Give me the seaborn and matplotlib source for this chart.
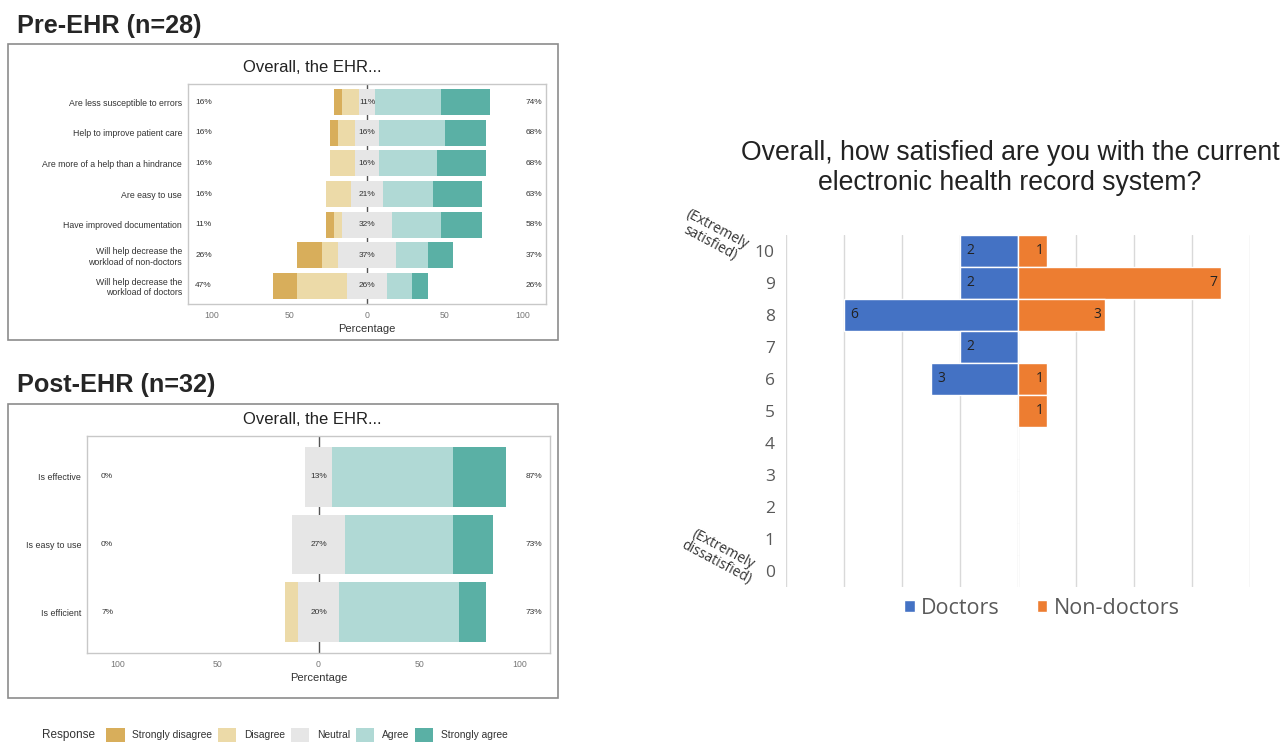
import matplotlib
matplotlib.use("Agg")
import matplotlib.pyplot as plt
from matplotlib.patches import Patch, Rectangle
import seaborn as sns

# Likert responses, percent of respondents
responses = ["Strongly disagree", "Disagree", "Neutral", "Agree", "Strongly agree"]
likert_colors = ["#D8AE5B", "#ECDAA8", "#E6E6E6", "#B0D9D5", "#5AB0A5"]

pre_items = ["Are less susceptible to errors", "Help to improve patient care",
             "Are more of a help than a hindrance", "Are easy to use",
             "Have improved documentation",
             "Will help decrease the\nworkload of non-doctors",
             "Will help decrease the\nworkload of doctors"]
pre_strongly_disagree = [5.3, 5.3, 0, 0, 5.3, 15.8, 15.8]
pre_disagree = [10.5, 10.5, 15.8, 15.8, 5.3, 10.5, 31.6]
pre_neutral = [10.5, 15.8, 15.8, 21.1, 31.6, 36.8, 26.3]
pre_agree = [42.1, 42.1, 36.8, 31.6, 31.6, 21.1, 15.8]
pre_strongly_agree = [31.6, 26.3, 31.6, 31.6, 26.3, 15.8, 10.5]

post_items = ["Is effective", "Is easy to use", "Is efficient"]
post_strongly_disagree = [0, 0, 0]
post_disagree = [0, 0, 6.7]
post_neutral = [13.3, 26.7, 20.0]
post_agree = [60.0, 53.3, 60.0]
post_strongly_agree = [26.7, 20.0, 13.3]

pct_ticks = [-100, -50, 0, 50, 100]
pct_tick_labels = ["100", "50", "0", "50", "100"]

# satisfaction scores (counts)
levels = ["10", "9", "8", "7", "6", "5", "4", "3", "2", "1", "0"]
doctors = [2, 2, 6, 2, 3, 0, 0, 0, 0, 0, 0]
non_doctors = [1, 7, 3, 0, 1, 1, 0, 0, 0, 0, 0]
blue, orange = "#4472C4", "#ED7D31"

sns.set_style("white")
plt.rcParams["font.family"] = ["Liberation Sans", "DejaVu Sans"]

W, H = 1286, 742
fig = plt.figure(figsize=(W / 100, H / 100), dpi=100)


def px_axes(l, t, r, b):
    return fig.add_axes([l / W, 1 - b / H, (r - l) / W, (b - t) / H])


def pct(v):
    return f"{int(v + 0.5)}%"


def likert(ax, items, sd, d, n, a, sa, bar_h, ylim, label_size):
    half = [v / 2 for v in n]
    layers = [
        ([h + x + y for h, x, y in zip(half, a, sa)], likert_colors[4]),
        ([h + x for h, x in zip(half, a)], likert_colors[3]),
        (half, likert_colors[2]),
        ([-(h + x + y) for h, x, y in zip(half, d, sd)], likert_colors[0]),
        ([-(h + x) for h, x in zip(half, d)], likert_colors[1]),
        ([-h for h in half], likert_colors[2]),
    ]
    ax.axvline(0, color="#555555", lw=1, zorder=0)
    for vals, c in layers:
        sns.barplot(x=vals, y=items, order=items, orient="h", color=c,
                    saturation=1, width=bar_h, linewidth=0, ax=ax)
    for i in range(len(items)):
        ax.text(-105, i, pct(sd[i] + d[i]), ha="center", va="center",
                fontsize=6, color="#333333")
        ax.text(0, i, pct(n[i]), ha="center", va="center",
                fontsize=6, color="#333333")
        ax.text(107, i, pct(a[i] + sa[i]), ha="center", va="center",
                fontsize=6, color="#333333")
    ax.set_xlim(-115, 115)
    ax.set_ylim(*ylim)
    ax.set_xticks(pct_ticks)
    ax.set_xticklabels(pct_tick_labels)
    ax.tick_params(axis="x", length=0, pad=5, labelsize=6.3, labelcolor="#777777")
    ax.tick_params(axis="y", length=0, pad=4.3, labelsize=label_size, labelcolor="#333333")
    for lbl in ax.get_yticklabels():
        lbl.set_multialignment("right")
    ax.set_xlabel("Percentage", fontsize=8, color="#333333", labelpad=3)
    ax.set_ylabel("")
    for s in ax.spines.values():
        s.set_color("#C8C8C8")
        s.set_linewidth(1)


# panel frames
for (l, t, r, b) in [(8, 44, 558, 340), (8, 404, 558, 698)]:
    fig.add_artist(Rectangle((l / W, 1 - b / H), (r - l) / W, (b - t) / H,
                             transform=fig.transFigure, fill=False,
                             edgecolor="#8C8C8C", lw=1.2))

fig.text(17 / W, 1 - 26 / H, "Pre-EHR (n=28)", fontsize=18.2, fontweight="bold",
         ha="left", va="center")
fig.text(17 / W, 1 - 385 / H, "Post-EHR (n=32)", fontsize=18.2, fontweight="bold",
         ha="left", va="center")
fig.text(312 / W, 1 - 68 / H, "Overall, the EHR...", fontsize=12, ha="center",
         va="center", color="#222222")
fig.text(312 / W, 1 - 420 / H, "Overall, the EHR...", fontsize=12, ha="center",
         va="center", color="#222222")

ax1 = px_axes(188, 84, 546, 304)
likert(ax1, pre_items, pre_strongly_disagree, pre_disagree, pre_neutral,
       pre_agree, pre_strongly_agree, 0.85, (6.6, -0.6), 6.3)

ax2 = px_axes(87, 436, 550, 653)
likert(ax2, post_items, post_strongly_disagree, post_disagree, post_neutral,
       post_agree, post_strongly_agree, 0.88, (2.6, -0.6), 6.4)

# response legend
fig.text(42 / W, 1 - 735 / H, "Response", fontsize=8.5, va="center", color="#333333")
handles = [Patch(facecolor=c, edgecolor="none", label=r)
           for r, c in zip(responses, likert_colors)]
fig.legend(handles=handles, loc="center left", bbox_to_anchor=(106 / W, 1 - 735 / H),
           ncol=5, frameon=False, fontsize=7.4, handlelength=1.8, handleheight=1.8,
           handletextpad=0.75, columnspacing=0.55, borderpad=0, borderaxespad=0,
           labelcolor="#333333")

# satisfaction chart
ax3 = px_axes(786, 235, 1250, 587)
sns.barplot(x=[-v for v in doctors], y=levels, order=levels, orient="h", color=blue,
            saturation=1, width=1, edgecolor="white", linewidth=1, ax=ax3)
sns.barplot(x=non_doctors, y=levels, order=levels, orient="h", color=orange,
            saturation=1, width=1, edgecolor="white", linewidth=1, ax=ax3)
for i, v in enumerate(doctors):
    if v:
        ax3.text(-v + 0.22, i, str(v), ha="left", va="center", fontsize=10,
                 color="#222222", family="Open Sans")
for i, v in enumerate(non_doctors):
    if v:
        ax3.text(v - 0.12, i, str(v), ha="right", va="center", fontsize=10,
                 color="#222222", family="Open Sans")
ax3.set_xlim(-8, 8)
ax3.set_ylim(10.5, -0.5)
ax3.set_xticks(range(-8, 9, 2))
ax3.set_xticklabels([])
ax3.tick_params(axis="x", length=0)
ax3.grid(axis="x", color="#D9D9D9", lw=1)
ax3.set_axisbelow(True)
ax3.set_xlabel("")
ax3.set_ylabel("")
sns.despine(ax=ax3, left=True, bottom=True)
ax3.tick_params(axis="y", length=0, pad=8, labelsize=12.5, labelcolor="#595959")
for lbl in ax3.get_yticklabels():
    lbl.set_fontfamily("Open Sans")

fig.text(1010 / W, 1 - 167.5 / H,
         "Overall, how satisfied are you with the current\nelectronic health record system?",
         fontsize=19.2, ha="center", va="center", color="#222222", linespacing=1.2)
fig.text(714 / W, 1 - 236 / H, "(Extremely\nsatisfied)", rotation=-28, ha="center",
         va="center", fontsize=10, color="#333333", family="Open Sans", linespacing=1.0)
fig.text(720 / W, 1 - 556 / H, "(Extremely\ndissatisfied)", rotation=-28, ha="center",
         va="center", fontsize=10, color="#333333", family="Open Sans", linespacing=1.0)

fig.legend(handles=[Patch(facecolor=blue, label="Doctors"),
                    Patch(facecolor=orange, label="Non-doctors")],
           loc="center", bbox_to_anchor=(1042 / W, 1 - 608 / H), ncol=2, frameon=False,
           prop={"family": "Open Sans", "size": 15.5}, labelcolor="#595959",
           handlelength=0.5, handleheight=0.5, handletextpad=0.3, columnspacing=1.7)

fig.savefig("out.png", dpi=100)
